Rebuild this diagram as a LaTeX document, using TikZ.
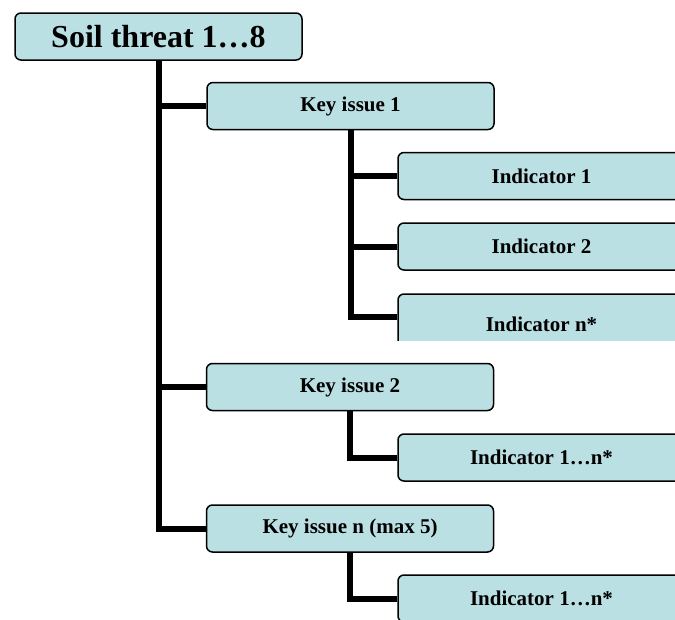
\documentclass[tikz,border=0pt]{standalone}
\usepackage{fontspec}
\setmainfont{Liberation Serif}
\usepackage{tikz}
\usetikzlibrary{calc}
\definecolor{boxfill}{HTML}{BBE0E3}
\tikzset{
	box/.style={draw=black, line width=1.5pt, fill=boxfill, rounded corners=6pt, inner sep=0pt, font=\bfseries},
	threatbox/.style={box, minimum width=287pt, minimum height=47pt, font=\bfseries\fontsize{32}{34}\selectfont},
	issuebox/.style={box, minimum width=287pt, minimum height=47pt, font=\bfseries\fontsize{21}{23}\selectfont},
	indbox/.style={box, minimum width=287pt, minimum height=47pt, font=\bfseries\fontsize{21}{23}\selectfont},
	trunk/.style={line width=6pt, color=black}
}

\begin{document}
\begin{tikzpicture}[x=1pt, y=-1pt]
		%%%%% START %%%%%
		
		\useasboundingbox (0, 0) rectangle (675, 619);
		
		\node[threatbox] (threat) at (158.5, 36.5) {Soil threat 1\ldots8};
		
		\node[issuebox] (key1) at (350.5, 106) {Key issue 1};
		\node[issuebox] (key2) at (350, 387) {Key issue 2};
		\node[issuebox] (keyn) at (350, 528.5) {Key issue n (max 5)};
		
		\node[indbox] (ind1) at (541.5, 176) {Indicator 1};
		\node[indbox] (ind2) at (541.5, 246.5) {Indicator 2};
		\begin{scope}
			\clip (0, 0) rectangle (675, 340);
			\node[indbox, minimum height=60pt] (indn) at (541.5, 324) {Indicator n*};
		\end{scope}
		\node[indbox] (ind2all) at (541.5, 457.5) {Indicator 1\ldots n*};
		\node[indbox] (indnall) at (541.5, 598.5) {Indicator 1\ldots n*};
		
		% main trunk
		\draw[trunk] (threat.south) -- (threat.south |- keyn.west) -- (keyn.west);
		\draw[trunk] (threat.south |- key1.west) -- (key1.west);
		\draw[trunk] (threat.south |- key2.west) -- (key2.west);
		
		% key issue 1
		\draw[trunk] (key1.south) |- ($(indn.north west)+(0, 24)$);
		\draw[trunk] (key1.south |- ind1.west) -- (ind1.west);
		\draw[trunk] (key1.south |- ind2.west) -- (ind2.west);
		
		% key issue 2 and n
		\draw[trunk] (key2.south) |- (ind2all.west);
		\draw[trunk] (keyn.south) |- (indnall.west);
		
		%%%%% END %%%%%
	\end{tikzpicture}
\end{document}
